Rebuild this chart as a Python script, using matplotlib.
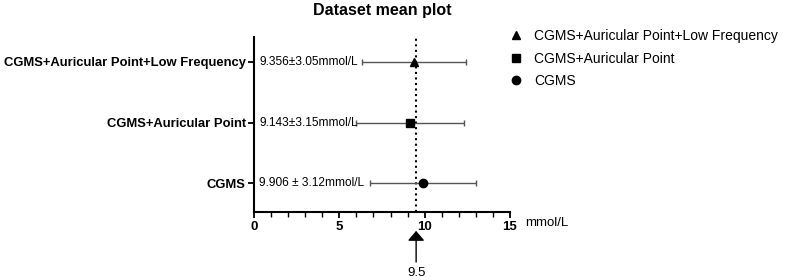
import matplotlib
matplotlib.use("Agg")
import matplotlib.pyplot as plt
from matplotlib.lines import Line2D

groups = ["CGMS", "CGMS+Auricular Point", "CGMS+Auricular Point+Low Frequency"]
means = [9.906, 9.143, 9.356]
sds = [3.12, 3.15, 3.05]
markers = ["o", "s", "^"]
labels = ["9.906 ± 3.12mmol/L", "9.143±3.15mmol/L", "9.356±3.05mmol/L"]
ref_value = 9.5

plt.rcParams['font.family'] = ['Liberation Sans', 'DejaVu Sans']

fig = plt.figure(figsize=(7.87, 2.8), dpi=100)
ax = fig.add_axes([254/787, 1-212/280, 256/787, 175/280])

ypos = list(range(len(groups)))
for y, m, s, mk, lab in zip(ypos, means, sds, markers, labels):
    ax.errorbar(m, y, xerr=s, fmt='none', ecolor='#555555', elinewidth=1.0,
                capsize=2.5, capthick=1.0, zorder=2)
    ax.plot(m, y, marker=mk, color='black', markersize=6, linestyle='none', zorder=3)
    ax.text(0.3, y, lab, ha='left', va='center', fontsize=8.6)

ax.axvline(ref_value, color='black', linestyle=':', linewidth=1.5, zorder=1)

ax.set_xlim(0, 15)
ax.set_ylim(-0.475, 2.41)
ax.set_yticks(ypos)
ax.set_yticklabels(groups, fontweight='bold', fontsize=9.4)
ax.set_xticks([0, 5, 10, 15])
ax.set_xticklabels(['0', '5', '10', '15'], fontweight='bold', fontsize=9.5)
ax.set_xticks(range(0, 16), minor=True)
ax.tick_params(axis='x', which='major', length=4.5, width=1.3, direction='out', pad=2)
ax.tick_params(axis='x', which='minor', length=3.5, width=1.0, direction='out')
ax.tick_params(axis='y', length=4, width=1.3, pad=2)
for sp in ['top', 'right']:
    ax.spines[sp].set_visible(False)
for sp in ['left', 'bottom']:
    ax.spines[sp].set_linewidth(1.5)

ax.text(15.9, -0.065, 'mmol/L', transform=ax.get_xaxis_transform(), ha='left', va='center', fontsize=9.5)
ax.set_title('Dataset mean plot', fontweight='bold', fontsize=11.5, pad=16)

ax.annotate('', xy=(ref_value, -0.108), xycoords=('data', 'axes fraction'),
            xytext=(ref_value, -0.286), textcoords=('data', 'axes fraction'),
            arrowprops=dict(arrowstyle='-|>,head_width=0.36,head_length=0.42',
                            color='black', lw=1.0, mutation_scale=14,
                            shrinkA=0, shrinkB=0),
            annotation_clip=False)
ax.text(ref_value, -0.35, '9.5', transform=ax.get_xaxis_transform(),
        ha='center', va='center', fontsize=9.5)

handles = [Line2D([], [], marker=mk, color='black', linestyle='none', markersize=6)
           for mk in markers[::-1]]
fig.legend(handles, groups[::-1], loc='upper left', bbox_to_anchor=(498/787, 0.94),
           frameon=False, fontsize=10, handlelength=0.8, handletextpad=0.9,
           labelspacing=0.6)

fig.savefig('out.png', dpi=100)
